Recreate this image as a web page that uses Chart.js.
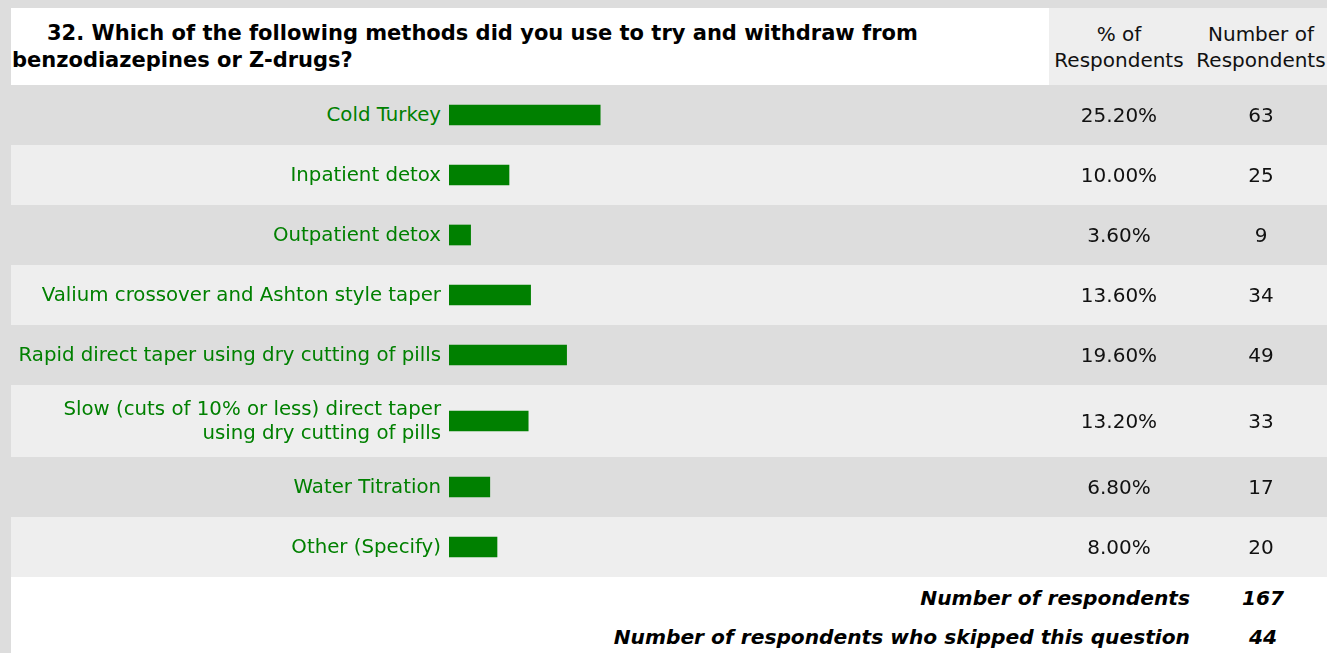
<!DOCTYPE html>
<html>
<head>
<meta charset="utf-8">
<script src="https://cdn.jsdelivr.net/npm/chart.js@4"></script>
<style>
  body { margin: 0; background: #dddddd; width: 1327px; height: 653px; overflow: hidden;
         font-family: "DejaVu Sans", sans-serif; }
  #head { position: absolute; left: 11px; top: 8px; width: 1038px; height: 77px; background: #fff; }
  #title { position: absolute; left: 1px; top: 12px; font-weight: bold; font-size: 21px; line-height: 27px; color: #000; white-space: nowrap; }
  #title span { padding-left: 35px; }
  #headcols { position: absolute; left: 1049px; top: 8px; width: 278px; height: 77px; background: #eeeeee;
              font-size: 20px; line-height: 26px; color: #111; }
  .hc { position: absolute; top: 13px; text-align: center; white-space: nowrap; }
  #rows { position: absolute; left: 11px; top: 85px; width: 1316px; }
  .row { display: flex; align-items: center; padding: 12px 0; min-height: 36px; }
  .row:nth-child(odd) { background: #dddddd; }
  .row:nth-child(even) { background: #eeeeee; }
  .lbl { width: 430px; text-align: right; color: #008000; font-size: 19.75px; line-height: 24px; white-space: nowrap; }
  .bar { margin-left: 8px; width: 600px; height: 36px; }
  .pct { width: 140px; text-align: center; font-size: 20px; color: #111; }
  .num { width: 132px; margin-left: 6px; text-align: center; font-size: 20px; color: #111; }
  #foot { position: absolute; left: 11px; top: 577px; width: 1316px; height: 76px; background: #fff;
          font-weight: bold; font-style: italic; font-size: 20.2px; color: #000; }
  .fl { position: absolute; right: 137px; text-align: right; white-space: nowrap; }
  .fv { position: absolute; left: 1192px; width: 120px; text-align: center; }
</style>
</head>
<body>
<div id="head"><div id="title"><span>32. Which of the following methods did you use to try and withdraw from</span><br>benzodiazepines or Z-drugs?</div></div>
<div id="headcols">
  <div class="hc" style="left:0;width:140px">% of<br>Respondents</div>
  <div class="hc" style="left:146px;width:132px">Number of<br>Respondents</div>
</div>
<div id="rows"></div>
<div id="foot">
  <div class="fl" style="top:9px">Number of respondents</div><div class="fv" style="top:9px">167</div>
  <div class="fl" style="top:48px">Number of respondents who skipped this question</div><div class="fv" style="top:48px">44</div>
</div>
<script>
const categories = [
  "Cold Turkey",
  "Inpatient detox",
  "Outpatient detox",
  "Valium crossover and Ashton style taper",
  "Rapid direct taper using dry cutting of pills",
  ["Slow (cuts of 10% or less) direct taper", "using dry cutting of pills"],
  "Water Titration",
  "Other (Specify)"
];
const percentValues = [25.2, 10.0, 3.6, 13.6, 19.6, 13.2, 6.8, 8.0];
const respondentCounts = [63, 25, 9, 34, 49, 33, 17, 20];

const rowsEl = document.getElementById("rows");

categories.forEach((cat, i) => {
  const row = document.createElement("div");
  row.className = "row";
  const label = Array.isArray(cat) ? cat.join("<br>") : cat;
  row.innerHTML =
    `<div class="lbl">${label}</div>` +
    `<div class="bar"><canvas id="bar${i}" width="600" height="36"></canvas></div>` +
    `<div class="pct">${percentValues[i].toFixed(2)}%</div>` +
    `<div class="num">${respondentCounts[i]}</div>`;
  rowsEl.appendChild(row);

  // one small horizontal bar per row
  new Chart(document.getElementById(`bar${i}`), {
    type: "bar",
    data: {
      labels: [Array.isArray(cat) ? cat.join(" ") : cat],
      datasets: [{
        data: [percentValues[i]],
        backgroundColor: "#008000",
        borderWidth: 0,
        barThickness: 20,
      }],
    },
    options: {
      indexAxis: "y",
      responsive: false,
      animation: false,
      layout: { padding: 0 },
      plugins: { legend: { display: false }, tooltip: { enabled: false } },
      scales: {
        x: { display: false, min: 0, max: 100 },
        y: { display: false },
      },
    },
  });
});
</script>
</body>
</html>
